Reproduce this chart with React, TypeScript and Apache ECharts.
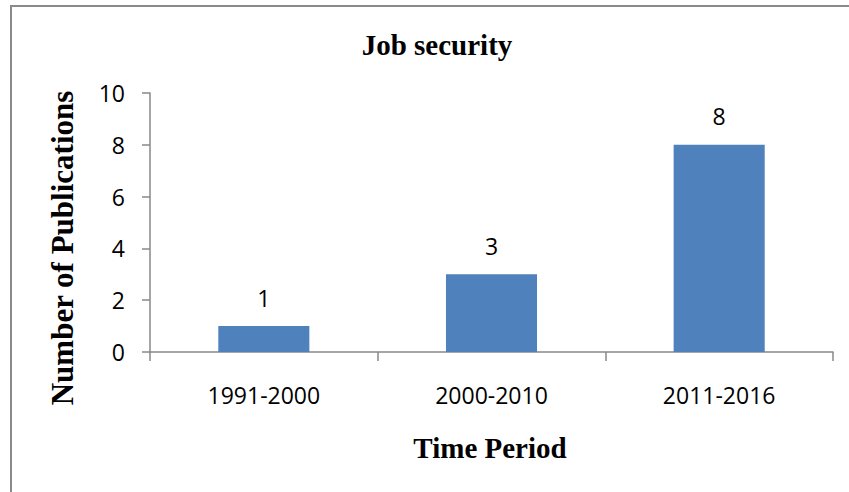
import React, { useEffect, useRef } from "react";
import * as echarts from "echarts";

const categories = ["1991-2000", "2000-2010", "2011-2016"];
const publications = [1, 3, 8];
const yTicks = { min: 0, max: 10, interval: 2 };
const titleText = "Job security";
const xName = "Time Period";
const yName = "Number of Publications";

export default function App() {
  const ref = useRef<HTMLDivElement>(null);
  useEffect(() => {
    if (!ref.current) return;
    const chart = echarts.init(ref.current, null, { renderer: "svg" });
    const serif = "'Liberation Serif', 'Times New Roman', serif";
    const sans = "'Open Sans', 'Noto Sans', sans-serif";
    chart.setOption({
      animation: false,
      backgroundColor: "#ffffff",
      title: {
        text: titleText,
        left: 432,
        top: 25,
        textAlign: "center",
        textStyle: { fontFamily: serif, fontWeight: "bold", fontSize: 29, color: "#000" },
      },
      graphic: [
        {
          type: "rect",
          shape: { x: 11, y: 6, width: 900, height: 600 },
          style: { fill: "none", stroke: "#8a8a8a", lineWidth: 2 },
          silent: true,
        },
        {
          type: "text",
          x: 62,
          y: 248,
          rotation: Math.PI / 2,
          style: {
            text: yName,
            fontFamily: serif,
            fontWeight: "bold",
            fontSize: 31,
            fill: "#000",
            align: "center",
            verticalAlign: "middle",
          },
          silent: true,
        },
        {
          type: "text",
          x: 490,
          y: 448,
          style: {
            text: xName,
            fontFamily: serif,
            fontWeight: "bold",
            fontSize: 29,
            fill: "#000",
            align: "center",
            verticalAlign: "middle",
          },
          silent: true,
        },
      ],
      grid: { left: 150, right: 16, top: 93, bottom: 140, containLabel: false },
      xAxis: {
        type: "category",
        data: categories,
        axisLine: { show: true, lineStyle: { color: "#888", width: 1.5 } },
        axisTick: { show: true, alignWithLabel: false, length: 9, lineStyle: { color: "#888", width: 1.5 } },
        axisLabel: { fontFamily: sans, fontSize: 23, color: "#000", margin: 31 },
        splitLine: { show: false },
      },
      yAxis: {
        type: "value",
        min: yTicks.min,
        max: yTicks.max,
        interval: yTicks.interval,
        axisLine: { show: true, lineStyle: { color: "#888", width: 1.5 } },
        axisTick: { show: true, length: 8, lineStyle: { color: "#888", width: 1.5 } },
        axisLabel: { fontFamily: sans, fontSize: 23, color: "#000", margin: 25 },
        splitLine: { show: false },
      },
      series: [
        {
          type: "bar",
          data: publications,
          barWidth: "40%",
          itemStyle: { color: "#4f81bd" },
          label: {
            show: true,
            position: "top",
            distance: 17,
            fontFamily: sans,
            fontSize: 23,
            color: "#000",
          },
        },
      ],
    });
    return () => chart.dispose();
  }, []);
  return (
    <div
      ref={ref}
      style={{ position: "fixed", left: 0, top: 0, width: 849, height: 492, background: "#fff" }}
    />
  );
}
